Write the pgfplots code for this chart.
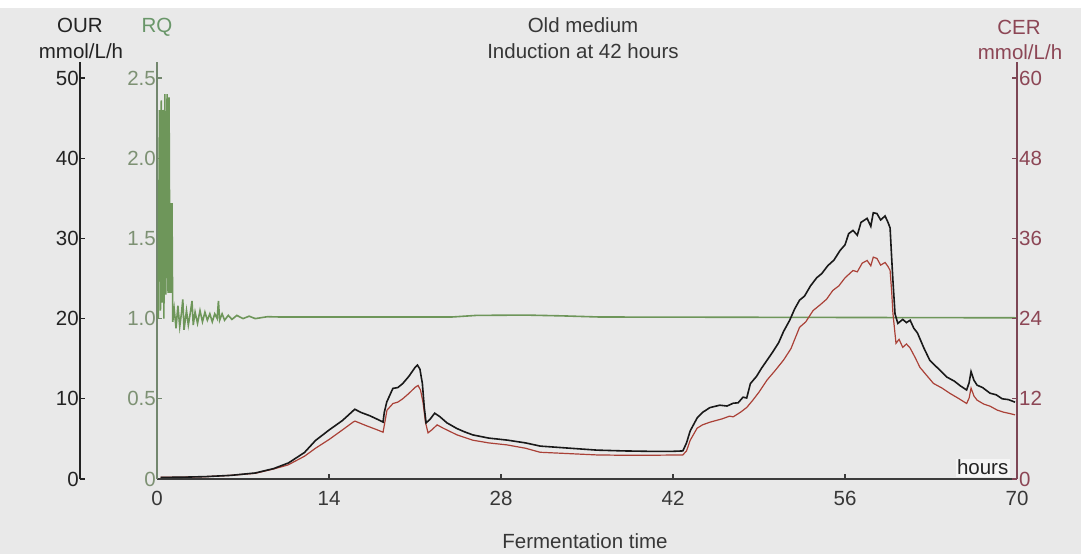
\documentclass[border=0pt]{standalone}
\usepackage{fontspec}
\setmainfont{Liberation Sans}
\usepackage{pgfplots}
\pgfplotsset{compat=1.18}
\definecolor{bgcol}{RGB}{233,233,233}
\definecolor{ourcol}{RGB}{35,35,35}
\definecolor{xaxcol}{RGB}{60,60,60}
\definecolor{xlabcol}{RGB}{55,55,55}
\definecolor{rqaxis}{RGB}{115,135,110}
\definecolor{rqtext}{RGB}{125,145,115}
\definecolor{rqlabel}{RGB}{105,150,105}
\definecolor{rqline}{RGB}{110,150,90}
\definecolor{cercol}{RGB}{125,70,85}
\definecolor{certext}{RGB}{140,70,85}
\definecolor{cerline}{RGB}{170,65,55}
\definecolor{ourline}{RGB}{25,25,25}
\newcommand\lbl{\fontsize{20.5bp}{24bp}\selectfont}
\pgfplotsset{
  common/.style={scale only axis, width=860bp, height=417bp, at={(157bp,75bp)}, anchor=south west,
    xmin=0, xmax=70, /pgf/number format/assume math mode=true,
    ticklabel style={font=\lbl}, axis line style={-}, tick align=inside, major tick length=5bp},
}
\begin{document}
\begin{tikzpicture}[x=1bp,y=1bp]
\fill[bgcol] (0,0) rectangle (1081,554);
\fill[white] (0,546) rectangle (1081,554);
\useasboundingbox (0,0) rectangle (1081,554);

% RQ axis with x axis
\begin{axis}[common, ymin=0, ymax=2.6, axis x line*=bottom, axis y line*=left,
  xtick={0,14,28,42,56,70}, ytick={0,0.5,1,1.5,2,2.5}, yticklabels={0,0.5,1.0,1.5,2.0,2.5},
  x axis line style={draw=xaxcol, line width=1.5bp}, y axis line style={draw=rqaxis, line width=1.5bp},
  xtick style={draw=xaxcol, line width=1.2bp}, ytick style={draw=rqaxis, line width=1.2bp},
  xticklabel style={text=xlabcol, yshift=-9bp}, yticklabel style={text=rqtext, inner xsep=1bp}]
\addplot[rqline, line width=1.6bp] table {
0.1 1.0
0.2 2.3
0.28 1.05
0.35 2.36
0.42 1.1
0.5 2.3
0.56 1.0
0.64 2.4
0.72 1.15
0.82 2.4
0.9 1.16
0.98 2.38
1.05 1.16
1.12 1.72
1.18 1.16
1.22 1.72
1.28 0.98
1.4 1.06
1.55 0.94
1.7 1.08
1.85 0.95
2.0 1.04
2.1 1.12
2.2 0.93
2.4 1.05
2.55 0.96
2.7 1.03
2.85 1.11
2.95 0.96
3.1 1.04
3.3 0.97
3.5 1.05
3.7 0.98
3.9 1.04
4.1 0.99
4.3 1.03
4.5 0.98
4.7 1.03
4.9 1.0
5.0 1.11
5.1 0.99
5.3 1.03
5.5 0.99
5.8 1.02
6.1 0.995
6.5 1.02
7.0 1.0
7.5 1.015
8.0 1.0
9 1.012
10 1.01
24 1.01
26 1.02
30 1.022
33 1.017
36 1.01
50 1.008
70 1.005
};
\end{axis}

% CER axis and data
\begin{axis}[common, ymin=0, ymax=62.4, hide x axis, axis y line*=right,
  ytick={0,12,24,36,48,60},
  y axis line style={draw=cercol, line width=1.5bp}, ytick style={draw=cercol, line width=1.2bp},
  yticklabel style={text=certext, inner xsep=2bp}]
\addplot[cerline, line width=1.2bp] table {
0.3 0.25
2 0.27
4 0.35
6 0.55
8 0.85
9.5 1.5
10.66 2.1
12 3.4
12.9 4.6
14 5.9
15.06 7.3
15.95 8.5
16.12 8.66
17 8.0
18.0 7.3
18.4 7.0
18.72 10.3
19.21 11.3
19.6 11.5
20.0 12.0
20.5 12.8
21.0 13.7
21.25 14.0
21.45 13.3
21.65 11.5
21.85 8.5
22.06 6.9
22.4 7.4
22.8 8.1
23.3 7.6
24.42 6.6
25.72 5.8
27 5.4
28.49 5.1
30 4.6
31.18 4.0
33.5 3.8
35.8 3.6
38 3.55
40 3.55
42.8 3.6
43.1 4.2
43.4 5.8
43.96 7.6
44.4 8.1
45.0 8.5
46.0 9.0
46.6 9.4
46.9 9.3
47.5 10.0
48.0 10.7
48.5 11.8
49.0 13.0
49.65 14.8
50.3 16.2
51.0 17.8
51.6 19.5
52.3 22.7
52.8 23.5
53.4 25.2
54.0 26.1
54.5 26.9
55.0 28.2
55.5 28.9
56.0 30.1
56.65 31.2
57.0 31.0
57.4 32.3
57.8 32.7
58.1 31.9
58.3 33.2
58.6 33.0
58.9 32.0
59.26 32.4
59.5 31.8
59.67 31.2
59.8 28.0
59.9 24.8
60.15 20.3
60.4 20.9
60.7 19.7
61.0 20.2
61.3 19.6
61.7 18.2
62.1 16.7
62.6 15.6
63.2 14.3
63.9 13.6
64.55 12.8
65.2 12.1
65.9 11.3
66.1 12.1
66.26 13.6
66.5 12.4
66.75 11.8
67.3 11.2
67.8 10.9
68.4 10.3
68.9 10.0
69.4 9.8
69.84 9.6
};
\end{axis}

% OUR data
\begin{axis}[common, ymin=0, ymax=52, hide axis]
\addplot[ourline, line width=1.6bp] table {
0.3 0.2
2 0.22
4 0.3
6 0.45
8 0.75
9.5 1.3
10.7 2.0
12 3.3
12.9 4.8
14 6.1
15.1 7.3
15.6 8.0
16.1 8.7
16.6 8.3
17.3 7.9
18.0 7.4
18.4 7.1
18.5 8.3
18.7 9.6
19.2 11.3
19.6 11.4
20.0 11.9
20.5 12.8
21.0 13.9
21.2 14.2
21.4 13.7
21.6 11.9
21.75 9.0
21.9 7.0
22.2 7.4
22.6 8.2
23.0 7.8
23.6 7.0
24.4 6.3
25.0 5.9
25.7 5.5
27.0 5.1
28.5 4.85
30.0 4.5
31.2 4.1
33.5 3.85
35.8 3.6
38 3.5
40 3.45
42 3.45
42.8 3.5
43.1 4.5
43.4 6.0
43.96 7.6
44.4 8.3
45.0 8.9
45.8 9.2
46.4 9.1
46.9 9.45
47.3 9.5
47.7 10.2
48.0 10.1
48.3 11.9
48.8 12.8
49.2 13.8
49.65 14.8
50.1 15.8
50.6 17.0
51.0 18.4
51.5 19.8
51.9 21.2
52.3 22.3
52.7 22.8
53.2 24.1
53.7 25.1
54.1 25.6
54.6 26.6
55.1 27.3
55.6 28.5
56.0 29.2
56.3 30.6
56.65 31.0
57.0 30.4
57.3 32.0
57.8 32.5
58.1 31.5
58.3 33.2
58.6 33.1
58.9 32.3
59.26 32.8
59.5 32.0
59.67 31.3
59.8 27.5
59.9 24.75
60.07 20.6
60.3 19.4
60.7 19.9
61.0 19.5
61.3 19.8
61.6 18.8
61.9 18.2
62.4 16.4
62.9 14.8
63.5 13.9
64.3 12.7
64.9 12.2
65.4 11.6
65.9 11.1
66.1 12.0
66.26 13.4
66.5 12.3
66.75 11.7
67.2 11.4
67.8 10.7
68.3 10.5
68.8 10.0
69.3 9.9
69.84 9.58
};
\end{axis}

% OUR axis (offset to the left)
\begin{axis}[common, at={(80bp,75bp)}, width=1bp, xmin=0, xmax=1, ymin=0, ymax=52,
  hide x axis, axis y line*=left, ytick={0,10,20,30,40,50},
  y axis line style={draw=ourcol, line width=2.2bp}, ytick style={draw=ourcol, line width=1.2bp},
  yticklabel style={text=ourcol, inner xsep=1bp}]
\addplot[draw=none] coordinates {(0,0)};
\end{axis}

\node[anchor=base, font=\lbl, text=ourcol] at (80,521) {OUR};
\node[anchor=base, font=\lbl, text=ourcol] at (81,495) {mmol/L/h};
\node[anchor=base, font=\lbl, text=rqlabel] at (157,521) {RQ};
\node[anchor=base, font=\lbl, text=certext] at (1019,519) {CER};
\node[anchor=base, font=\lbl, text=certext] at (1020,494) {mmol/L/h};
\node[anchor=base, font=\lbl, text=xlabcol] at (583,521) {Old medium};
\node[anchor=base, font=\lbl, text=xlabcol] at (583,495) {Induction at 42 hours};
\node[anchor=base, font=\lbl, text=xlabcol] at (585,5.5) {Fermentation time};
\node[anchor=base east, font=\lbl, text=ourcol, fill=white!55!bgcol, inner sep=1.5bp] at (1010,79) {hours};
\end{tikzpicture}
\end{document}
